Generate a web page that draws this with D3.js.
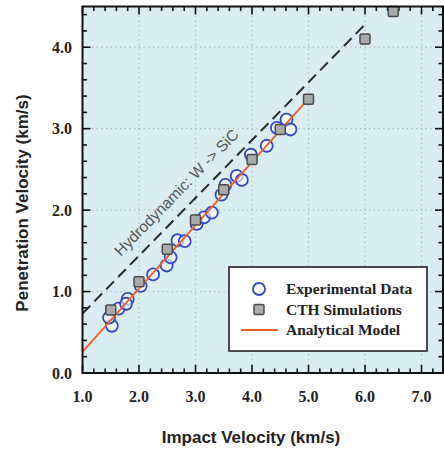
<!DOCTYPE html>
<html><head><meta charset="utf-8">
<script src="https://cdn.jsdelivr.net/npm/d3@7"></script>
<style>body{margin:0;background:#fff}svg{display:block}</style>
</head><body>
<script>
// Data
const expX = [1.52,1.47,1.64,1.80,1.77,2.03,2.25,2.49,2.56,2.68,2.81,3.02,3.15,3.29,3.46,3.53,3.73,3.82,3.98,4.26,4.44,4.61,4.68];
const expY = [0.58,0.68,0.79,0.91,0.85,1.07,1.21,1.32,1.42,1.63,1.62,1.83,1.91,1.97,2.19,2.31,2.42,2.37,2.68,2.79,3.01,3.11,2.99];
const cthX = [1.5,2.0,2.5,3.0,3.5,4.0,4.5,5.0,6.0,6.5];
const cthY = [0.775,1.12,1.52,1.88,2.25,2.62,2.99,3.36,4.1,4.44];
const modelX = [1.0,4.95];
const modelY = [0.26,3.33];
const hydroX = [1.0,6.0];
const hydroY = [0.73,4.28];
const xTicks = [1,2,3,4,5,6,7];
const yTicks = [0,1,2,3,4];
const legendLabels = ["Experimental Data","CTH Simulations","Analytical Model"];

const W=444,H=450;
const L=82.5,R=443,T=6.5,B=373;
const x=d3.scaleLinear().domain([1,7.38]).range([L,R]);
const y=d3.scaleLinear().domain([0,4.5]).range([B,T]);
const svg=d3.select("body").append("svg").attr("width",W).attr("height",H);

svg.append("rect").attr("x",L).attr("y",T).attr("width",R-L).attr("height",B-T).attr("fill","#d9edf2");

// grid
const g=svg.append("g");
g.selectAll(".gx").data(xTicks.filter(d=>d>1)).enter().append("line")
 .attr("x1",d=>x(d)).attr("x2",d=>x(d)).attr("y1",T).attr("y2",B)
 .attr("stroke","#a8b4b8").attr("stroke-width",1.2).attr("stroke-dasharray","1.2,3.5");
g.selectAll(".gy").data(yTicks.filter(d=>d>0)).enter().append("line")
 .attr("y1",d=>y(d)).attr("y2",d=>y(d)).attr("x1",L).attr("x2",R)
 .attr("stroke","#a8b4b8").attr("stroke-width",1.2).attr("stroke-dasharray","1.2,3.5");

// ticks on all sides (inward)
const xMinor=d3.range(1,7.39,0.2).map(v=>+v.toFixed(1));
const yMinor=d3.range(0,4.51,0.2).map(v=>+v.toFixed(1));
const isMaj=v=>Math.abs(v-Math.round(v))<1e-6;
const tk=svg.append("g").attr("stroke","#111").attr("stroke-width",1.6);
xMinor.forEach(v=>{const len=isMaj(v)?8:4.5;
 tk.append("line").attr("x1",x(v)).attr("x2",x(v)).attr("y1",B).attr("y2",B-len);
 tk.append("line").attr("x1",x(v)).attr("x2",x(v)).attr("y1",T).attr("y2",T+len);});
yMinor.forEach(v=>{const len=isMaj(v)?8:4.5;
 tk.append("line").attr("y1",y(v)).attr("y2",y(v)).attr("x1",L).attr("x2",L+len);
 tk.append("line").attr("y1",y(v)).attr("y2",y(v)).attr("x1",R).attr("x2",R-len);});

// hydrodynamic dashed line
const line=d3.line().x(d=>x(d[0])).y(d=>y(d[1]));
svg.append("path").datum(d3.zip(hydroX,hydroY)).attr("d",line)
 .attr("fill","none").attr("stroke","#2a2a2a").attr("stroke-width",2).attr("stroke-dasharray","11,6");

// label
const ang=Math.atan2(y(hydroY[1])-y(hydroY[0]),x(hydroX[1])-x(hydroX[0]))*180/Math.PI;
svg.append("text").attr("transform",`translate(${x(2.73)},${y(2.17)}) rotate(${ang})`)
 .attr("text-anchor","middle").attr("font-family","Liberation Sans, Arial, sans-serif")
 .attr("font-size",15.5).attr("fill","#555").text("Hydrodynamic: W -> SiC");

// experimental circles
svg.append("g").selectAll("circle").data(d3.zip(expX,expY)).enter().append("circle")
 .attr("cx",d=>x(d[0])).attr("cy",d=>y(d[1])).attr("r",6)
 .attr("fill","#fff").attr("fill-opacity",0.6).attr("stroke","#3347c4").attr("stroke-width",1.8);

// model line
svg.append("path").datum(d3.zip(modelX,modelY)).attr("d",line)
 .attr("fill","none").attr("stroke","#f0602c").attr("stroke-width",1.9);

// CTH squares
const s=10;
svg.append("g").selectAll("rect").data(d3.zip(cthX,cthY)).enter().append("rect")
 .attr("x",d=>x(d[0])-s/2).attr("y",d=>y(d[1])-s/2).attr("width",s).attr("height",s).attr("rx",1.5)
 .attr("fill","#a7abab").attr("stroke","#4a4a4a").attr("stroke-width",1.5);

// frame
svg.append("rect").attr("x",L).attr("y",T).attr("width",R-L).attr("height",B-T)
 .attr("fill","none").attr("stroke","#111").attr("stroke-width",2);

// tick labels
const serif="Liberation Serif, Times New Roman, serif";
svg.append("g").selectAll("text").data(xTicks).enter().append("text")
 .attr("x",d=>x(d)).attr("y",402).attr("text-anchor","middle")
 .attr("font-family",serif).attr("font-weight","bold").attr("font-size",16).attr("fill","#222")
 .text(d=>d.toFixed(1));
svg.append("g").selectAll("text").data(yTicks).enter().append("text")
 .attr("x",72).attr("y",d=>y(d)+5.5).attr("text-anchor","end")
 .attr("font-family",serif).attr("font-weight","bold").attr("font-size",16).attr("fill","#222")
 .text(d=>d.toFixed(1));

// axis titles
const sans="Liberation Sans, Arial, sans-serif";
svg.append("text").attr("x",251).attr("y",443).attr("text-anchor","middle")
 .attr("font-family",sans).attr("font-weight","bold").attr("font-size",17).attr("fill","#222")
 .text("Impact Velocity (km/s)");
svg.append("text").attr("transform","translate(28,203) rotate(-90)").attr("text-anchor","middle")
 .attr("font-family",sans).attr("font-weight","bold").attr("font-size",17).attr("fill","#222")
 .text("Penetration Velocity (km/s)");

// legend
const lg=svg.append("g");
lg.append("rect").attr("x",229).attr("y",267).attr("width",198).attr("height",84)
 .attr("fill","#fff").attr("stroke","#222").attr("stroke-width",1.6);
const rows=[289,309.5,330];
lg.append("circle").attr("cx",259).attr("cy",rows[0]).attr("r",6)
 .attr("fill","#fff").attr("stroke","#3347c4").attr("stroke-width",1.8);
lg.append("rect").attr("x",259-s/2).attr("y",rows[1]-s/2).attr("width",s).attr("height",s).attr("rx",1.5)
 .attr("fill","#a7abab").attr("stroke","#4a4a4a").attr("stroke-width",1.5);
lg.append("line").attr("x1",241).attr("x2",278).attr("y1",rows[2]).attr("y2",rows[2])
 .attr("stroke","#f0602c").attr("stroke-width",2);
lg.selectAll("text.l").data(legendLabels).enter().append("text")
 .attr("x",286).attr("y",(d,i)=>rows[i]+5)
 .attr("font-family",serif).attr("font-weight","bold").attr("font-size",15.5).attr("fill","#222")
 .text(d=>d);
</script>
</body></html>
